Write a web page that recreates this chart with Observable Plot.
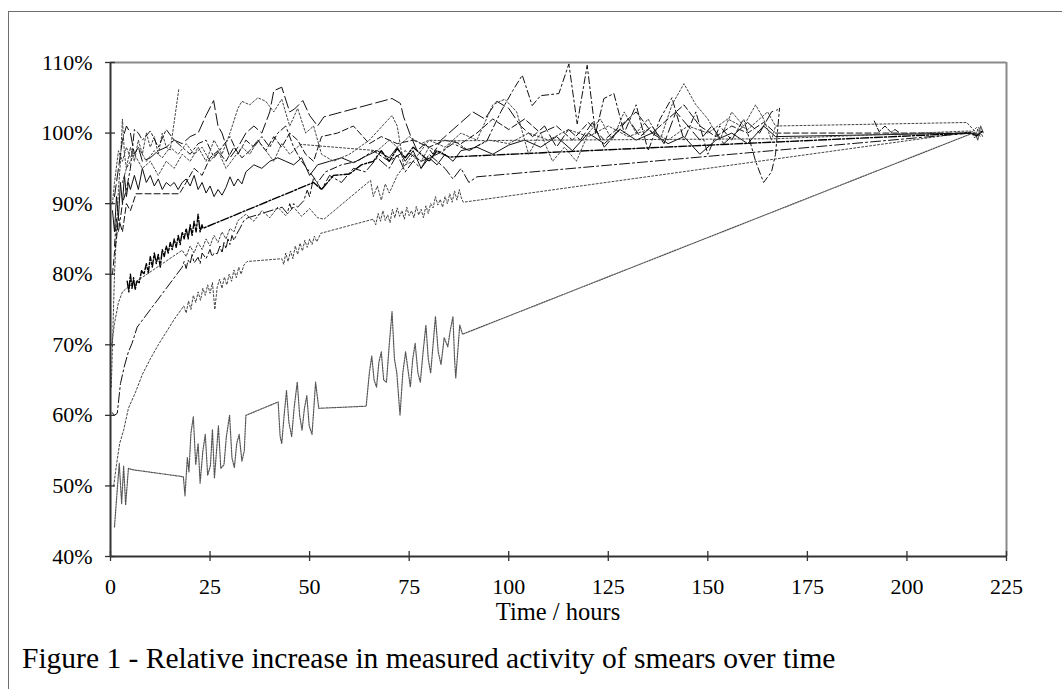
<!DOCTYPE html>
<html><head><meta charset="utf-8">
<script src="https://cdn.jsdelivr.net/npm/d3@7"></script>
<script src="https://cdn.jsdelivr.net/npm/@observablehq/plot@0.6"></script>
<style>
html,body{margin:0;padding:0;overflow:hidden;background:#fff;}
#wrap{position:relative;width:1062px;height:689px;font-family:"Liberation Serif","Times New Roman",serif;color:#000;}
#border{position:absolute;left:8px;top:11px;width:1120px;height:760px;border:1.5px solid #6e6e6e;box-sizing:border-box;}
#chart{position:absolute;left:0;top:0;}
#xlabel{position:absolute;left:358px;width:400px;text-align:center;top:600px;font-size:24.5px;line-height:24.5px;white-space:nowrap;}
#caption{position:absolute;left:22px;top:643px;font-size:29.5px;line-height:30px;white-space:nowrap;}
</style>
</head><body>
<div id="wrap">
  <div id="border"></div>
  <div id="chart"></div>
  <div id="xlabel">Time / hours</div>
  <div id="caption">Figure 1 - Relative increase in measured activity of smears over time</div>
</div>
<script>
// Tick values
const xTicks = [0, 25, 50, 75, 100, 125, 150, 175, 200, 225];
const yTicks = [40, 50, 60, 70, 80, 90, 100, 110];

// Series: [hours, percent]
const seriesA = [[1.0,44.2],[1.5,48],[2.2,53.2],[2.8,47.5],[3.3,52.8],[3.8,47.3],[4.5,52.5],[5.5,52.3],[18.3,51.3],[18.7,48.6],[19.3,54],[19.7,52],[20.2,57.5],[20.8,59.8],[21.4,53],[22,56],[22.5,50.4],[23.2,55],[23.8,57.3],[24.4,51.5],[25.1,52.9],[25.6,58],[26.1,51.1],[26.7,55.5],[27.1,58.5],[27.7,52.5],[28.5,53],[29.1,57],[29.9,60],[30.5,54],[31.1,52.6],[31.7,56],[32.3,57.3],[33,53.5],[33.6,55],[34,60],[42.1,61.9],[42.6,57],[43,56],[43.6,60],[44.2,63.5],[44.8,59],[45.5,57],[46.1,61],[46.9,64.7],[47.5,60],[48.1,57.9],[48.7,61],[49.3,62.8],[49.9,58.5],[50.6,57.3],[51,60.5],[51.5,64.7],[52.3,61],[64.2,61.3],[65,66],[65.6,68.4],[66.2,65],[66.8,64],[67.4,67.5],[68,69],[68.6,65],[69.3,64.7],[70,70],[70.7,74.7],[71.3,68],[71.9,66],[72.7,60],[73.4,66],[74.1,69],[74.7,66.5],[75.3,64],[75.9,68],[76.5,70.2],[77.2,66],[77.8,64.7],[78.5,69],[79.2,72.8],[79.8,68],[80.4,66],[81,70],[81.6,74],[82.3,69],[83,67.2],[83.8,71],[84.7,69.7],[85.3,72],[86,74],[86.4,68],[86.7,65.3],[87.2,69],[87.7,72.8],[88.4,71.5],[217,100.1],[217.8,99],[218.5,101],[219.2,100]];

const seriesB = [[0.8,50],[1.5,53],[2.3,56],[3.3,57.9],[4.5,61],[6.3,63.3],[8,65.8],[10,68],[12,70],[14,71.8],[16,73.6],[18.4,75.5],[19,74.5],[19.6,76.2],[20.2,75],[20.8,77],[21.4,76],[22,77.5],[22.6,76.3],[23.2,78],[23.8,77],[24.4,78.5],[25,77.3],[25.6,78.8],[26.2,75],[26.8,78.2],[27.4,79.3],[28,78],[28.6,79.6],[29.2,78.5],[29.8,80],[30.4,79],[31,80.6],[31.6,79.5],[32.2,81],[32.8,80],[33.5,81.3],[34.3,81.8],[43,82.2],[43.5,81.4],[44,83],[44.6,81.8],[45.2,83.3],[45.8,82.2],[46.4,84],[47,82.8],[47.6,84.4],[48.2,83.3],[48.8,84.8],[49.4,83.8],[50,85],[50.6,84.2],[51.2,85.4],[51.8,84.6],[52.8,85.8],[66,87.8],[66.6,87],[67.2,88.6],[67.8,87.5],[68.4,89],[69,87.6],[69.6,88.4],[70.2,87.3],[70.8,89.2],[71.4,88],[72,89.4],[72.6,88.2],[73.2,89],[73.8,87.8],[74.4,89.5],[75,88.3],[75.6,89],[76.2,88],[76.8,89.6],[77.4,88.4],[78,89.2],[78.6,88],[79.2,89.7],[79.8,88.6],[80.4,90],[81,89.4],[81.6,91],[82.2,89.8],[82.8,90.6],[83.4,89.5],[84,91],[84.6,90],[85.2,91.4],[85.8,90.2],[86.4,91.8],[87,90.5],[87.6,92],[88.1,90.8],[88.6,90.2],[216.5,100.2],[217.5,100.8],[218.5,99.6]];

const seriesC = [[0.4,60.4],[1,60],[1.7,60.3],[2.5,64.5],[3.5,67],[4.5,69],[5.4,70.2],[6.7,72.5],[18,81],[18.5,81.8],[19,80.8],[19.5,82],[20,81.5],[20.5,82.8],[21,81.6],[22,82.4],[22.5,81.5],[23,83],[24,82.2],[25,83.5],[25.5,82.5],[26,83],[26.8,82.9],[27.5,84],[28,83],[28.5,84.5],[29,83.6],[29.5,85],[30,84.2],[30.5,85.5],[31,84.8],[31.8,85.8],[32.5,86.5],[33.5,87.6],[34.5,88],[43.1,89.5],[44.4,88.6],[45,90],[45.5,89.2],[46,90],[47,89.5],[48.5,90.4],[49.4,91.9],[50,91],[51,93.7],[53,92],[55,94],[58,93],[61,95],[64,94.5],[67,96.5],[70,95],[72,97],[74,94.5],[76,96],[78,95],[80,97],[82,96],[84,95],[86,93.5],[88,95],[90,93],[92,93.8],[216,100]];

const seriesD = [[4.2,79],[4.6,77.5],[5,80],[5.4,78],[5.8,79.5],[6.2,77.8],[6.6,79],[7.2,78.8],[7.8,80.5],[8.4,80],[9,81.5],[9.5,80.2],[10,82.5],[10.5,81],[11,83],[11.5,81.5],[12,82.8],[12.5,81],[13,83.5],[13.5,82.5],[14,84],[14.5,83],[15,84.5],[15.5,83.5],[16,85],[16.5,83.8],[17,85.5],[17.5,84.2],[18,86],[18.5,85],[19,86.5],[19.5,85],[20,87],[20.5,85.5],[21,87.5],[21.5,86],[22,88.5],[22.5,86],[23,87],[23.2,86.5],[51,93],[53,92],[56,94],[60,94.2],[63,95.5],[66,96],[68,97.5],[70,96],[72,97.8],[74,96.5],[76,98],[78,97],[80,96],[82,97.5],[85,96.6],[216,100],[217.5,99.6],[219,100.3]];

const seriesE = [[0.3,70],[1,73],[2,76],[3,77.5],[4.2,78.1],[18,83.4],[19,82.5],[20,84],[21,83],[22,84.5],[23,83.5],[24,85],[25,84],[26,85.5],[27,84.5],[28,86],[29,85],[30,86.5],[31,86],[32,87.6],[34,88.5],[36,87.5],[38,89],[40,88],[42,89.5],[44,88.3],[46,89.5],[48,88.2],[50,89.3],[52,88],[53.6,87.8],[65.3,93.3],[66,91],[67,92.5],[68,90.5],[69,92.8],[70,91.5],[72,94],[74,95.5],[76,97],[78,96],[80,98],[83,97],[86,99],[90,97.5],[95,99],[100,98.5],[105,100],[110,99],[115,100.5],[120,99.5],[125,101],[130,99.5],[135,100.5],[140,99],[145,101],[150,100],[155,102],[160,100.5],[165,103],[167,101],[215,101.5],[217.5,100],[218.5,99.5]];

const seriesF = [[0.2,64],[0.6,72],[1,80],[1.5,86],[2,92],[2.5,96],[3,102],[3.5,97],[4,95],[5,98],[6,96],[7,99],[8,97],[9,100],[10,98],[11,99.5],[12,97],[13,100],[14,98],[15,97.6],[17.2,106.4]];

const seriesG = [[0.5,89],[1,86],[1.5,91],[2,88],[2.5,93],[3,90],[3.5,94],[4,91],[4.5,93],[5,92],[6,94],[7,92],[8,95],[9,93],[10,94],[11,92.5],[12,93.5],[13,92],[14,93],[15,92.5],[16,93],[17,92],[18,93],[19,93.5],[20,92.5],[21,94],[22,92],[23,93],[24,91.5],[25,92.5],[26,91],[27,92],[28,91.2],[29,92.3],[30,93.8],[31,92.5],[32,93.5],[33,92.8],[34,94.5],[36,95.5],[38,95],[40,96],[42,96.5],[44,96],[46,95.5],[48,96.5],[50,94],[52,95.5],[55,96],[58,96.5],[61,95.8],[64,96.7],[67,97.5],[70,96.5],[72,98],[74,96],[76,97.5],[78,95],[80,96.5],[82,95.5],[84,97],[86,96],[88,97.5],[92,98],[96,97],[100,98.3],[104,99],[108,98],[112,99.5],[116,97.5],[120,100],[124,98.5],[128,100.5],[132,99],[136,100],[140,98.5],[144,99.5],[148,97],[152,99],[156,100],[160,98.5],[164,101],[167,99.5],[216,100],[218,99.8],[219,100.2]];

const seriesH = [[1,91],[2,95],[3,99],[4,101],[5,100],[6,97],[7,98],[8,96],[10,96.5],[12,97.5],[14,98],[16,99],[18,98.5],[20,99.5],[22,100],[24,102.5],[25.9,104.6],[27,101],[28,100],[30,96.5],[32,98],[34,100],[36,101],[38,100],[40,103],[41,106],[43,106.5],[45,103],[46.2,103.4],[48.3,104.6],[50,102.5],[52,101],[53.6,102.3],[70.7,104.9],[72.8,104.2],[73.6,102.3],[75.3,99.7],[77,97.5],[79,98.5],[81,97],[83,99],[85,100],[88,101.5],[91,103],[94,102],[97,104.5],[100,103.5],[103,101],[106,99.5],[109,101],[112,98],[115,100.5],[118,99],[121,101.5],[124,98],[127,100],[130,102],[133,99.5],[136,101],[139,98.5],[142,103],[145,101],[148,99],[151,101],[154,98.5],[157,100],[160,101.5],[163,100],[166,103],[167.5,103.3]];

const seriesI = [[1,84],[1.5,88],[2,86],[3,90],[4,92],[5,95],[6,100.5],[7,100],[8,99],[10,100.3],[12,98],[14,100.5],[16,99],[18,98],[20,97],[22,98.5],[24,99],[26,96.5],[28,98],[30,99.5],[32,97],[34,99],[36,98],[38,99.5],[40,98],[42,100],[44,101],[46,98],[48,96],[50,94.5],[52,93],[54,94.5],[58,95.5],[62,96],[66,97.5],[70,96],[74,97.5],[78,96],[82,97],[86,98.5],[90,97.5],[94.6,99],[98,103],[101,106],[103.4,108.2],[105.9,103.9],[108,105.3],[112.6,105.6],[115.1,109.8],[117.2,101.3],[119.7,109.6],[121.8,99.9],[123.9,104.9],[126.4,105.6],[129,100],[132,104],[135,97.5],[138,102],[141,105],[144,99],[147,103],[150,97],[153,101],[156,99],[159,102],[162,96],[164,93],[166,94.5],[167,97],[168,103.5]];

const seriesJ = [[3,93],[4,95],[6,97],[8,95],[10,96],[12,94],[14,96],[16,95],[18,97],[20,96],[22,98],[24,96],[26,99],[28,97],[30,100],[32,103.5],[33,104.5],[35,104],[37,105],[39,104.5],[41,103],[43,104.8],[45,101],[47,103.5],[49,100],[51,101],[53,97],[56,96],[60,97],[65,99],[70.7,102.5],[72,101],[73.6,95.4],[76,96],[80,99],[84,98],[88,100],[92,99],[96,104],[99,104.8],[102,103],[105,97],[108,100],[111,96],[114,98],[117,96],[120,100],[123,102],[126,99],[129,103],[132,100],[135,102],[138,99],[141,104],[144,107],[147,104],[150,102],[153,99],[156,103],[159,101],[162,104],[164,102],[166,99],[167,101]];

const seriesK = [[0.5,80],[1,83],[1.5,85],[2,88],[3,86],[4,90],[5,89],[6.4,91.4],[17.3,91.4],[19,93],[21,95],[23,94],[25,96.5],[27,97.5],[29,96],[31,98],[33,96.5],[35,97.5],[37,99],[39,97.5],[41,99.5],[43,98],[45,100],[47,99],[49,97],[51,96],[53,99.5],[57,100],[61,101],[65,98.5],[68,99.5],[72,98.5],[76,99],[80,98],[84,99],[88,98.5],[92,100],[96,102],[100,100.5],[104,102],[108,100],[112,101],[116,99],[120,101.5],[124,99],[128,101],[132,103],[136,100],[140,102],[144,104],[148,101],[152,99.5],[156,101],[160,100],[164,101.5],[167,100],[216,100]];

const seriesL = [[0.5,90],[1,93],[2,97.5],[3,96],[4,98],[5,96.5],[7,98],[9,96],[11,97.5],[13,96.5],[15,98],[17,97],[19,98.5],[21,97],[23,98],[25,96],[27,97.5],[29,95],[31,96.5],[33,98],[35,97],[37,99],[39,97.5],[41,96],[43,98.5],[45,97],[47.7,98.4],[67,97.5],[70,99],[72,98],[75,99.5],[78,98.5],[80,99],[83.7,98.9],[167,99.2],[216,100.3],[217,99.3],[218,100.8],[219,99.5]];

const seriesM = [[191.8,101.7],[193,100.2],[194.5,101],[196,100.1],[197,100.5],[198,100.1]];

const allSeries = [seriesA, seriesB, seriesC, seriesD, seriesE, seriesF, seriesG, seriesH, seriesI, seriesJ, seriesK, seriesL, seriesM];
// line styles, one per series (same order)
const lineStyles = [
  {dash: "1.5,1.2", width: 1.2, color: "#555"},
  {dash: "2,2", width: 1, color: "#444"},
  {dash: "10,3,2,3", width: 1, color: "#111"},
  {dash: "8,2,2,2", width: 1.4, color: "#000"},
  {dash: "2,2", width: 1, color: "#444"},
  {dash: "2,2", width: 1, color: "#444"},
  {dash: null, width: 1, color: "#111"},
  {dash: "12,4", width: 1, color: "#111"},
  {dash: "7,3,2,3", width: 1, color: "#111"},
  {dash: "2,2", width: 1, color: "#444"},
  {dash: "6,3", width: 1, color: "#111"},
  {dash: "2,2", width: 1, color: "#444"},
  {dash: "6,2", width: 1, color: "#111"}
];

const font = "Liberation Serif, Times New Roman, serif";

const lineMarks = allSeries.map((s, i) => Plot.line(s, {
  x: d => d[0], y: d => d[1],
  stroke: lineStyles[i].color,
  strokeWidth: lineStyles[i].width,
  strokeDasharray: lineStyles[i].dash
}));

const chart = Plot.plot({
  width: 1062,
  height: 610,
  marginLeft: 110,
  marginRight: 56,
  marginTop: 62,
  marginBottom: 54,
  style: {fontFamily: font, fontSize: "22px", background: "transparent", overflow: "visible"},
  x: {domain: [0, 225]},
  y: {domain: [40, 110]},
  marks: [
    ...lineMarks,
    Plot.ruleY([110], {stroke: "#8a8a8a", strokeWidth: 2}),
    Plot.ruleX([225], {stroke: "#8a8a8a", strokeWidth: 2}),
    Plot.ruleY([40], {stroke: "#333", strokeWidth: 2}),
    Plot.ruleX([0], {stroke: "#333", strokeWidth: 2}),
    Plot.axisX(xTicks, {tickSize: 10, dy: -5, tickFormat: () => "", stroke: "#333", strokeWidth: 1.3, label: null}),
    Plot.axisX(xTicks, {tickSize: 0, tickPadding: 22, fontSize: 22, fontFamily: font, fill: "#000", label: null}),
    Plot.axisY(yTicks, {tickSize: 10, dx: 5, tickFormat: () => "", stroke: "#333", strokeWidth: 1.3, label: null}),
    Plot.axisY(yTicks, {tickSize: 0, tickPadding: 18, tickFormat: d => d + "%", fontSize: 22, fontFamily: font, fill: "#000", label: null})
  ]
});
document.getElementById("chart").appendChild(chart);
</script>
</body></html>
